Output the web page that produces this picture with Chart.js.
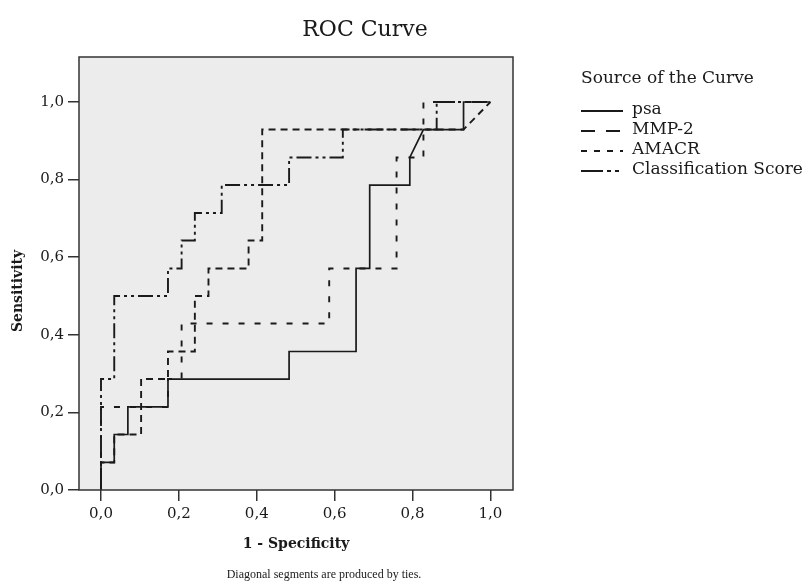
<!DOCTYPE html>
<html>
<head>
<meta charset="utf-8">
<script src="https://cdn.jsdelivr.net/npm/chart.js@4.4.0/dist/chart.umd.min.js"></script>
<style>
  html, body { margin: 0; padding: 0; background: #fff; }
  #wrap { width: 806px; height: 587px; }
</style>
</head>
<body>
<div id="wrap"><canvas id="roc"></canvas></div>
<script>
// values (1 - specificity, sensitivity)
const psaFpr = [0, 0, 0.034, 0.034, 0.069, 0.069, 0.172, 0.172, 0.483, 0.483, 0.655, 0.655, 0.690, 0.690, 0.793, 0.793, 0.828, 0.931, 0.931, 1];
const psaTpr = [0, 0.071, 0.071, 0.143, 0.143, 0.214, 0.214, 0.286, 0.286, 0.357, 0.357, 0.571, 0.571, 0.786, 0.786, 0.857, 0.929, 0.929, 1, 1];

const mmpFpr = [0, 0, 0.172, 0.172, 0.207, 0.207, 0.586, 0.586, 0.759, 0.759, 0.828, 0.828, 1];
const mmpTpr = [0, 0.214, 0.214, 0.286, 0.286, 0.429, 0.429, 0.571, 0.571, 0.857, 0.857, 1, 1];

const amacrFpr = [0, 0, 0.034, 0.034, 0.103, 0.103, 0.172, 0.172, 0.241, 0.241, 0.276, 0.276, 0.379, 0.379, 0.414, 0.414, 0.931, 1];
const amacrTpr = [0, 0.071, 0.071, 0.143, 0.143, 0.286, 0.286, 0.357, 0.357, 0.5, 0.5, 0.571, 0.571, 0.643, 0.643, 0.929, 0.929, 1];

const clsFpr = [0, 0, 0.034, 0.034, 0.172, 0.172, 0.207, 0.207, 0.241, 0.241, 0.310, 0.310, 0.483, 0.483, 0.621, 0.621, 0.862, 0.862, 1];
const clsTpr = [0, 0.286, 0.286, 0.5, 0.5, 0.571, 0.571, 0.643, 0.643, 0.714, 0.714, 0.786, 0.786, 0.857, 0.857, 0.929, 0.929, 1, 1];

const tickVals = [0, 0.2, 0.4, 0.6, 0.8, 1.0];
const seriesNames = ["psa", "MMP-2", "AMACR", "Classification Score"];

const SERIF = "'DejaVu Serif', serif";
const INK = "#1a1a1a";

const pts = (xs, ys) => xs.map((x, i) => ({ x, y: ys[i] }));
const fmt = v => Number(v).toFixed(1).replace(".", ",");

// plot dash styles, and the ones used in the legend swatches
const plotDash = [[], [6, 10], [7, 5], [15, 4, 3, 4, 3, 4]];
const legendDash = [[], [14, 11], [6, 7], [22, 4, 4, 4, 4, 4]];

const frameAndText = {
  id: "frameAndText",
  beforeDraw(chart) {
    const { ctx, chartArea: a } = chart;
    ctx.save();
    ctx.fillStyle = "#ececec";
    ctx.fillRect(a.left, a.top, a.right - a.left, a.bottom - a.top);
    ctx.restore();
  },
  afterDraw(chart) {
    const { ctx, chartArea: a } = chart;
    ctx.save();
    ctx.strokeStyle = "#333";
    ctx.lineWidth = 1.5;
    ctx.strokeRect(a.left, a.top, a.right - a.left, a.bottom - a.top);

    ctx.fillStyle = INK;
    ctx.textAlign = "center";
    ctx.textBaseline = "middle";
    ctx.font = "22px " + SERIF;
    ctx.fillText("ROC Curve", 365, 30);

    ctx.font = "bold 14px " + SERIF;
    ctx.fillText("1 - Specificity", 296, 544);
    ctx.save();
    ctx.translate(18, 291);
    ctx.rotate(-Math.PI / 2);
    ctx.fillText("Sensitivity", 0, 0);
    ctx.restore();

    ctx.font = "12px 'Liberation Serif', serif";
    ctx.fillText("Diagonal segments are produced by ties.", 324, 575);

    // legend
    ctx.textAlign = "left";
    ctx.font = "17px " + SERIF;
    ctx.fillText("Source of the Curve", 581, 79);
    const rows = [111, 131, 151, 171];
    ctx.lineWidth = 1.8;
    ctx.strokeStyle = INK;
    seriesNames.forEach((name, i) => {
      ctx.setLineDash(legendDash[i]);
      ctx.beginPath();
      ctx.moveTo(581, rows[i]);
      ctx.lineTo(623, rows[i]);
      ctx.stroke();
      ctx.setLineDash([]);
      ctx.fillText(name, 632, rows[i] - 1);
    });
    ctx.restore();
  }
};

const series = [
  [psaFpr, psaTpr], [mmpFpr, mmpTpr], [amacrFpr, amacrTpr], [clsFpr, clsTpr]
];

new Chart(document.getElementById("roc"), {
  type: "scatter",
  data: {
    datasets: series.map((s, i) => ({
      label: seriesNames[i],
      data: pts(s[0], s[1]),
      showLine: true,
      borderColor: INK,
      borderWidth: i === 0 ? 1.7 : 1.9,
      borderDash: plotDash[i],
      pointRadius: 0,
      fill: false,
      tension: 0
    }))
  },
  options: {
    responsive: true,
    maintainAspectRatio: false,
    devicePixelRatio: 1,
    animation: false,
    layout: { padding: { top: 57, right: 293, bottom: 0, left: 0 } },
    plugins: { legend: { display: false }, tooltip: { enabled: false } },
    scales: {
      x: {
        type: "linear",
        min: -0.0565,
        max: 1.058,
        afterBuildTicks: ax => { ax.ticks = tickVals.map(v => ({ value: v })); },
        afterFit: s => { s.height = 97; },
        border: { display: false },
        grid: { drawOnChartArea: false, tickLength: 11, color: "#333", lineWidth: 1.5 },
        ticks: { callback: fmt, font: { family: SERIF, size: 15 }, color: INK, padding: 4, maxRotation: 0 }
      },
      y: {
        type: "linear",
        min: 0,
        max: 1.116,
        afterBuildTicks: ax => { ax.ticks = tickVals.map(v => ({ value: v })); },
        afterFit: s => { s.width = 79; },
        border: { display: false },
        grid: { drawOnChartArea: false, tickLength: 11, color: "#333", lineWidth: 1.5 },
        ticks: { callback: fmt, font: { family: SERIF, size: 15 }, color: INK, padding: 4 }
      }
    }
  },
  plugins: [frameAndText]
});
</script>
</body>
</html>
